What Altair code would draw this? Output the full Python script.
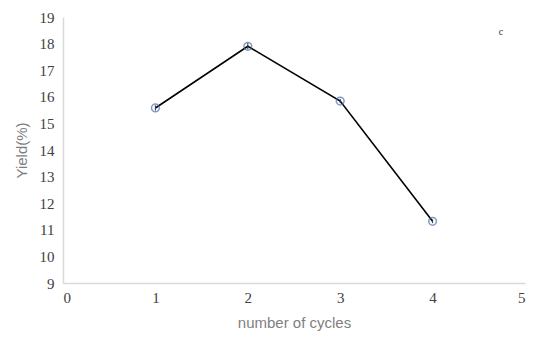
import altair as alt
import pandas as pd

cycles = [1, 2, 3, 4]
yield_pct = [15.58, 17.9, 15.84, 11.32]
err = [0.1, 0.12, 0.08, 0.07]

df = pd.DataFrame({"cycles": cycles, "yield": yield_pct, "err": err})
df["lo"] = df["yield"] - df["err"]
df["hi"] = df["yield"] + df["err"]

xs = alt.Scale(domain=[0, 5])
ys = alt.Scale(domain=[9, 19])

xaxis = alt.Axis(title="number of cycles", values=[0, 1, 2, 3, 4, 5], ticks=False,
                 grid=False, domainColor="#d9d9d9", domainWidth=1.5,
                 labelFont="Liberation Serif", labelFontSize=15, labelColor="#404040",
                 labelPadding=7, titleFont="Liberation Sans", titleFontSize=15,
                 titleFontWeight="normal", titleColor="#7f7f7f", titlePadding=10)
yaxis = alt.Axis(title="Yield(%)", values=list(range(9, 20)), ticks=False, grid=False,
                 domainColor="#d9d9d9", domainWidth=1.5,
                 labelFont="Liberation Serif", labelFontSize=15, labelColor="#404040",
                 labelPadding=9, titleFont="Liberation Sans", titleFontSize=15,
                 titleFontWeight="normal", titleColor="#7f7f7f", titlePadding=10)

x = alt.X("cycles:Q", scale=xs, axis=xaxis)
y = alt.Y("yield:Q", scale=ys, axis=yaxis)

base = alt.Chart(df)
line = base.mark_line(color="black", strokeWidth=1.6).encode(x=x, y=y)
bars = base.mark_rule(color="#333333", strokeWidth=1).encode(
    x=x, y=alt.Y("lo:Q", scale=ys, axis=yaxis), y2="hi:Q")
pts = base.mark_point(shape="circle", size=60, color="#4a6fb0", strokeWidth=1.5, filled=False).encode(
    x=x, y=y)

label = alt.Chart(pd.DataFrame({"t": ["c"]})).mark_text(
    font="Liberation Serif", fontSize=10, color="#333333"
).encode(text="t:N", x=alt.value(438), y=alt.value(15))

chart = (line + bars + pts + label).properties(
    width=462, height=266,
    autosize=alt.AutoSizeParams(type="none"),
    padding={"left": 55, "top": 9, "right": 10, "bottom": 50},
).configure_view(stroke=None)

chart.save("out.html", embed_options={"renderer": "svg", "actions": False})
